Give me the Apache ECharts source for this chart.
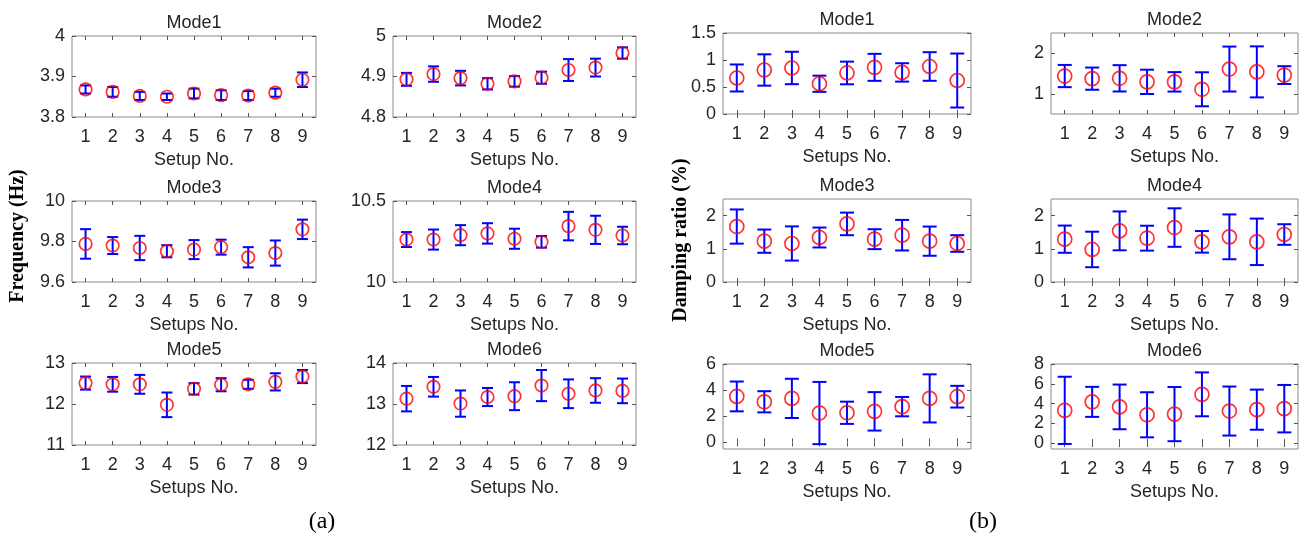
<!DOCTYPE html>
<html>
<head>
<meta charset="utf-8">
<script src="https://cdn.jsdelivr.net/npm/echarts@6/dist/echarts.min.js"></script>
<style>
  html, body { margin: 0; padding: 0; background: #ffffff; }
  #chart { width: 1299px; height: 539px; }
</style>
</head>
<body>
<div id="chart"></div>
<script>
// Setup numbers on every x axis
const setupLabels = ['1', '2', '3', '4', '5', '6', '7', '8', '9'];

// Identified natural frequencies (Hz): mean and +/- spread per setup
const freqMode1Mean = [3.868, 3.862, 3.852, 3.850, 3.858, 3.854, 3.853, 3.860, 3.892];
const freqMode1Err  = [0.010, 0.012, 0.010, 0.008, 0.012, 0.012, 0.011, 0.010, 0.018];
const freqMode2Mean = [4.893, 4.906, 4.896, 4.882, 4.888, 4.897, 4.916, 4.922, 4.958];
const freqMode2Err  = [0.016, 0.019, 0.018, 0.014, 0.013, 0.015, 0.027, 0.022, 0.014];
const freqMode3Mean = [9.788, 9.780, 9.768, 9.752, 9.760, 9.772, 9.722, 9.743, 9.860];
const freqMode3Err  = [0.073, 0.042, 0.060, 0.030, 0.047, 0.037, 0.050, 0.062, 0.048];
const freqMode4Mean = [10.262, 10.262, 10.289, 10.300, 10.267, 10.248, 10.345, 10.322, 10.287];
const freqMode4Err  = [0.046, 0.062, 0.062, 0.063, 0.062, 0.036, 0.088, 0.087, 0.054];
const freqMode5Mean = [12.51, 12.48, 12.48, 11.98, 12.37, 12.47, 12.48, 12.54, 12.67];
const freqMode5Err  = [0.16, 0.18, 0.23, 0.30, 0.14, 0.16, 0.11, 0.21, 0.16];
const freqMode6Mean = [13.13, 13.42, 13.01, 13.17, 13.19, 13.45, 13.25, 13.33, 13.32];
const freqMode6Err  = [0.31, 0.24, 0.32, 0.22, 0.34, 0.38, 0.35, 0.30, 0.30];

// Identified damping ratios (%): mean and +/- spread per setup
const dampMode1Mean = [0.667, 0.815, 0.852, 0.560, 0.760, 0.864, 0.770, 0.880, 0.620];
const dampMode1Err  = [0.250, 0.290, 0.300, 0.150, 0.210, 0.250, 0.170, 0.265, 0.500];
const dampMode2Mean = [1.437, 1.373, 1.381, 1.294, 1.294, 1.110, 1.610, 1.540, 1.460];
const dampMode2Err  = [0.274, 0.274, 0.325, 0.300, 0.240, 0.420, 0.555, 0.630, 0.220];
const dampMode3Mean = [1.67, 1.23, 1.16, 1.34, 1.75, 1.29, 1.41, 1.23, 1.16];
const dampMode3Err  = [0.515, 0.35, 0.515, 0.30, 0.34, 0.30, 0.46, 0.44, 0.25];
const dampMode4Mean = [1.29, 0.98, 1.54, 1.32, 1.64, 1.21, 1.36, 1.21, 1.43];
const dampMode4Err  = [0.41, 0.535, 0.585, 0.375, 0.58, 0.325, 0.675, 0.70, 0.31];
const dampMode5Mean = [3.52, 3.11, 3.37, 2.25, 2.27, 2.38, 2.74, 3.37, 3.50];
const dampMode5Err  = [1.14, 0.81, 1.50, 2.38, 0.85, 1.47, 0.74, 1.84, 0.83];
const dampMode6Mean = [3.31, 4.17, 3.66, 2.86, 2.93, 4.93, 3.24, 3.38, 3.48];
const dampMode6Err  = [3.40, 1.52, 2.26, 2.28, 2.74, 2.22, 2.48, 2.03, 2.40];

// Y ranges and labelled ticks
const freqMode1Range = [3.8, 4];    const freqMode1Ticks = [3.8, 3.9, 4];
const freqMode2Range = [4.8, 5];    const freqMode2Ticks = [4.8, 4.9, 5];
const freqMode3Range = [9.6, 10];   const freqMode3Ticks = [9.6, 9.8, 10];
const freqMode4Range = [10, 10.5];  const freqMode4Ticks = [10, 10.5];
const freqMode5Range = [11, 13];    const freqMode5Ticks = [11, 12, 13];
const freqMode6Range = [12, 14];    const freqMode6Ticks = [12, 13, 14];
const dampMode1Range = [0, 1.5];    const dampMode1Ticks = [0, 0.5, 1, 1.5];
const dampMode2Range = [0.5, 2.5];  const dampMode2Ticks = [1, 2];
const dampMode3Range = [0, 2.5];    const dampMode3Ticks = [0, 1, 2];
const dampMode4Range = [0, 2.5];    const dampMode4Ticks = [0, 1, 2];
const dampMode5Range = [-0.5, 6];   const dampMode5Ticks = [0, 2, 4, 6];
const dampMode6Range = [-0.6, 8];   const dampMode6Ticks = [0, 2, 4, 6, 8];

// Panel frames (pixels)
const colsA = [{ left: 72, width: 244 }, { left: 393, width: 243 }];
const rowsA = [{ top: 36, height: 81 }, { top: 201, height: 81 }, { top: 363, height: 82 }];
const colsB = [{ left: 723, width: 248 }, { left: 1051, width: 247 }];
const rowsB = [{ top: 33, height: 81 }, { top: 199, height: 83 }, { top: 364, height: 85 }];

const panels = [
  { cols: colsA, rows: rowsA, c: 0, r: 0, title: 'Mode1', mean: freqMode1Mean, err: freqMode1Err, range: freqMode1Range, ticks: freqMode1Ticks, xName: 'Setup No.' },
  { cols: colsA, rows: rowsA, c: 1, r: 0, title: 'Mode2', mean: freqMode2Mean, err: freqMode2Err, range: freqMode2Range, ticks: freqMode2Ticks, xName: 'Setups No.' },
  { cols: colsA, rows: rowsA, c: 0, r: 1, title: 'Mode3', mean: freqMode3Mean, err: freqMode3Err, range: freqMode3Range, ticks: freqMode3Ticks, xName: 'Setups No.' },
  { cols: colsA, rows: rowsA, c: 1, r: 1, title: 'Mode4', mean: freqMode4Mean, err: freqMode4Err, range: freqMode4Range, ticks: freqMode4Ticks, xName: 'Setups No.' },
  { cols: colsA, rows: rowsA, c: 0, r: 2, title: 'Mode5', mean: freqMode5Mean, err: freqMode5Err, range: freqMode5Range, ticks: freqMode5Ticks, xName: 'Setups No.' },
  { cols: colsA, rows: rowsA, c: 1, r: 2, title: 'Mode6', mean: freqMode6Mean, err: freqMode6Err, range: freqMode6Range, ticks: freqMode6Ticks, xName: 'Setups No.' },
  { cols: colsB, rows: rowsB, c: 0, r: 0, title: 'Mode1', mean: dampMode1Mean, err: dampMode1Err, range: dampMode1Range, ticks: dampMode1Ticks, xName: 'Setups No.', big: true },
  { cols: colsB, rows: rowsB, c: 1, r: 0, title: 'Mode2', mean: dampMode2Mean, err: dampMode2Err, range: dampMode2Range, ticks: dampMode2Ticks, xName: 'Setups No.', big: true },
  { cols: colsB, rows: rowsB, c: 0, r: 1, title: 'Mode3', mean: dampMode3Mean, err: dampMode3Err, range: dampMode3Range, ticks: dampMode3Ticks, xName: 'Setups No.', big: true },
  { cols: colsB, rows: rowsB, c: 1, r: 1, title: 'Mode4', mean: dampMode4Mean, err: dampMode4Err, range: dampMode4Range, ticks: dampMode4Ticks, xName: 'Setups No.', big: true },
  { cols: colsB, rows: rowsB, c: 0, r: 2, title: 'Mode5', mean: dampMode5Mean, err: dampMode5Err, range: dampMode5Range, ticks: dampMode5Ticks, xName: 'Setups No.', big: true },
  { cols: colsB, rows: rowsB, c: 1, r: 2, title: 'Mode6', mean: dampMode6Mean, err: dampMode6Err, range: dampMode6Range, ticks: dampMode6Ticks, xName: 'Setups No.', big: true }
];

const SANS = '"Liberation Sans", Arial, Helvetica, sans-serif';
const SERIF = '"Liberation Serif", "Times New Roman", serif';
const TEXT = '#262626';
const FRAME = '#8a8a8a';
const TICK = '#555555';
const FONT_SIZE = 18;

function makeErrorBarRenderer(capHalf) {
  return function (params, api) {
    const x = api.value(0);
    const m = api.value(1);
    const e = api.value(2);
    const hi = api.coord([x, m + e]);
    const lo = api.coord([x, m - e]);
    const style = { stroke: '#0000ff', lineWidth: 2, fill: null };
    return {
      type: 'group',
      children: [
        { type: 'line', shape: { x1: hi[0], y1: hi[1], x2: lo[0], y2: lo[1] }, style },
        { type: 'line', shape: { x1: hi[0] - capHalf, y1: hi[1], x2: hi[0] + capHalf, y2: hi[1] }, style },
        { type: 'line', shape: { x1: lo[0] - capHalf, y1: lo[1], x2: lo[0] + capHalf, y2: lo[1] }, style }
      ]
    };
  };
}

const grid = [], xAxis = [], yAxis = [], series = [], graphic = [];

panels.forEach(function (p, i) {
  const col = p.cols[p.c];
  const row = p.rows[p.r];
  grid.push({
    left: col.left, top: row.top, width: col.width, height: row.height,
    show: true, backgroundColor: '#ffffff', borderColor: FRAME, borderWidth: 1,
    containLabel: false, outerBoundsMode: 'none'
  });

  // bottom axis with labels and name
  xAxis.push({
    type: 'category', gridIndex: i, position: 'bottom', data: setupLabels,
    boundaryGap: true,
    axisLine: { show: false },
    axisTick: { show: true, inside: true, alignWithLabel: true, length: 4, lineStyle: { color: TICK } },
    axisLabel: { show: true, margin: 11, color: TEXT, fontSize: FONT_SIZE, fontFamily: SANS },
    splitLine: { show: false },
    name: p.xName, nameLocation: 'middle', nameGap: 34,
    nameTextStyle: { color: TEXT, fontSize: FONT_SIZE, fontFamily: SANS }
  });
  // top axis: ticks only
  xAxis.push({
    type: 'category', gridIndex: i, position: 'top', data: setupLabels,
    boundaryGap: true,
    axisLine: { show: false },
    axisTick: { show: true, inside: true, alignWithLabel: true, length: 4, lineStyle: { color: TICK } },
    axisLabel: { show: false },
    splitLine: { show: false }
  });
  // left axis with labels
  yAxis.push({
    type: 'value', gridIndex: i, position: 'left', min: p.range[0], max: p.range[1],
    axisLine: { show: false },
    axisTick: { show: true, inside: true, length: 4, customValues: p.ticks, lineStyle: { color: TICK } },
    axisLabel: { show: true, margin: 7, customValues: p.ticks, color: TEXT, fontSize: FONT_SIZE, fontFamily: SANS,
                 formatter: function (v) { return String(+v.toFixed(3)); } },
    splitLine: { show: false }
  });
  // right axis: ticks only
  yAxis.push({
    type: 'value', gridIndex: i, position: 'right', min: p.range[0], max: p.range[1],
    axisLine: { show: false },
    axisTick: { show: true, inside: true, length: 4, customValues: p.ticks, lineStyle: { color: TICK } },
    axisLabel: { show: false },
    splitLine: { show: false }
  });

  const capHalf = p.big ? 7 : 5.5;
  series.push({
    type: 'custom', xAxisIndex: 2 * i, yAxisIndex: 2 * i, z: 3,
    renderItem: makeErrorBarRenderer(capHalf),
    encode: { x: 0, y: 1 },
    data: p.mean.map(function (m, k) { return [k, m, p.err[k]]; }),
    silent: true
  });
  series.push({
    type: 'scatter', xAxisIndex: 2 * i, yAxisIndex: 2 * i, z: 4,
    symbol: 'circle', symbolSize: p.big ? 14 : 12.5,
    itemStyle: { color: 'rgba(255,255,255,0)', borderColor: '#ff0000', borderWidth: 1.7 },
    data: p.mean.map(function (m, k) { return [k, m]; }),
    silent: true
  });

  // panel title
  graphic.push({
    type: 'text', x: col.left + col.width / 2, y: row.top - 13,
    style: { text: p.title, fill: TEXT, font: FONT_SIZE + 'px ' + SANS,
             textAlign: 'center', textVerticalAlign: 'middle', align: 'center', verticalAlign: 'middle' }
  });
});

// Shared y labels and group captions
graphic.push({
  type: 'text', x: 18, y: 236, rotation: Math.PI / 2,
  style: { text: 'Frequency (Hz)', fill: '#000', font: 'bold 20px ' + SERIF,
           textAlign: 'center', textVerticalAlign: 'middle', align: 'center', verticalAlign: 'middle' }
});
graphic.push({
  type: 'text', x: 681, y: 240, rotation: Math.PI / 2,
  style: { text: 'Damping ratio (%)', fill: '#000', font: 'bold 20px ' + SERIF,
           textAlign: 'center', textVerticalAlign: 'middle', align: 'center', verticalAlign: 'middle' }
});
graphic.push({
  type: 'text', x: 322, y: 522,
  style: { text: '(a)', fill: '#000', font: '24px ' + SERIF,
           textAlign: 'center', textVerticalAlign: 'middle', align: 'center', verticalAlign: 'middle' }
});
graphic.push({
  type: 'text', x: 983, y: 522,
  style: { text: '(b)', fill: '#000', font: '24px ' + SERIF,
           textAlign: 'center', textVerticalAlign: 'middle', align: 'center', verticalAlign: 'middle' }
});

const chart = echarts.init(document.getElementById('chart'), null, { renderer: 'canvas' });
chart.setOption({
  animation: false,
  backgroundColor: '#ffffff',
  grid: grid,
  xAxis: xAxis,
  yAxis: yAxis,
  series: series,
  graphic: graphic
});
</script>
</body>
</html>
